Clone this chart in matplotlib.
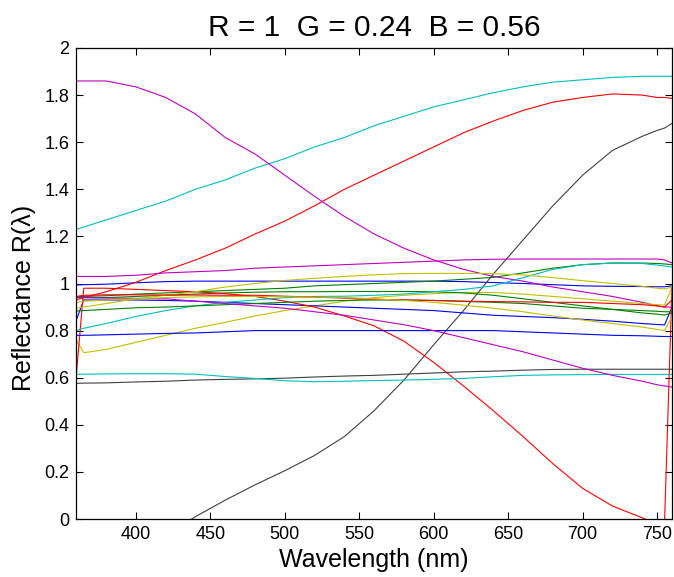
import matplotlib.pyplot as plt
import numpy as np

plt.rcParams['font.family'] = ['Liberation Sans', 'DejaVu Sans']

# wavelength grid (nm)
wl = [360, 365, 380, 400, 420, 440, 460, 480, 500, 520, 540, 560,
      580, 600, 620, 640, 660, 680, 700, 720, 740, 750, 755, 760]

# reflectance curves
blue1 = [0.994, 0.995, 0.997, 1.003, 1.008, 1.01, 1.01, 1.01, 1.01, 1.01, 1.01, 1.01,
         1.01, 1.01, 1.008, 1.004, 1.0, 0.995, 0.99, 0.988, 0.987, 0.986, 0.986, 0.99]
green1 = [0.944, 0.945, 0.948, 0.955, 0.96, 0.965, 0.97, 0.975, 0.98, 0.99, 0.995, 1.0,
          1.005, 1.01, 1.018, 1.026, 1.045, 1.065, 1.08, 1.087, 1.087, 1.085, 1.083, 1.08]
red_a = [0.93, 0.94, 0.965, 1.005, 1.055, 1.10, 1.15, 1.21, 1.265, 1.33, 1.40, 1.46,
         1.52, 1.58, 1.64, 1.69, 1.735, 1.77, 1.79, 1.805, 1.80, 1.79, 1.79, 1.786]
cyan_top = [1.23, 1.24, 1.27, 1.31, 1.35, 1.40, 1.44, 1.49, 1.53, 1.58, 1.62, 1.67,
            1.71, 1.75, 1.78, 1.81, 1.835, 1.855, 1.865, 1.875, 1.88, 1.88, 1.88, 1.88]
magenta_big = [1.86, 1.86, 1.86, 1.835, 1.79, 1.72, 1.62, 1.55, 1.46, 1.37, 1.285, 1.21,
               1.15, 1.10, 1.06, 1.03, 1.01, 0.985, 0.965, 0.945, 0.92, 0.905, 0.90, 0.90]
yellow1 = [0.76, 0.706, 0.72, 0.75, 0.78, 0.81, 0.835, 0.862, 0.885, 0.905, 0.925, 0.94,
           0.95, 0.957, 0.962, 0.962, 0.955, 0.945, 0.935, 0.925, 0.915, 0.91, 0.908, 0.985]
black_big = [-0.3, -0.28, -0.22, -0.14, -0.07, 0.01, 0.08, 0.145, 0.205, 0.27, 0.35, 0.46,
             0.59, 0.74, 0.885, 1.04, 1.185, 1.33, 1.46, 1.565, 1.625, 1.65, 1.66, 1.68]
blue2 = [0.845, 0.93, 0.93, 0.93, 0.928, 0.925, 0.92, 0.915, 0.91, 0.905, 0.90, 0.895,
         0.89, 0.885, 0.875, 0.865, 0.86, 0.855, 0.848, 0.84, 0.83, 0.826, 0.824, 0.90]
green2 = [0.94, 0.94, 0.94, 0.945, 0.95, 0.955, 0.96, 0.963, 0.965, 0.965, 0.966, 0.966,
          0.966, 0.965, 0.96, 0.95, 0.935, 0.92, 0.905, 0.89, 0.875, 0.87, 0.866, 0.875]
red_b = [0.61, 0.98, 0.98, 0.975, 0.97, 0.965, 0.957, 0.945, 0.925, 0.90, 0.862, 0.82,
         0.755, 0.665, 0.565, 0.46, 0.35, 0.235, 0.13, 0.055, 0.005, -0.02, -0.01, 0.985]
cyan2 = [0.80, 0.81, 0.83, 0.86, 0.885, 0.905, 0.92, 0.93, 0.94, 0.945, 0.946, 0.95,
         0.955, 0.965, 0.975, 0.99, 1.025, 1.06, 1.08, 1.087, 1.085, 1.078, 1.074, 1.07]
magenta_flat = [1.03, 1.03, 1.03, 1.035, 1.045, 1.05, 1.055, 1.065, 1.07, 1.075, 1.08, 1.085,
                1.09, 1.095, 1.10, 1.103, 1.104, 1.104, 1.104, 1.104, 1.104, 1.104, 1.10, 1.087]
yellow2 = [0.895, 0.90, 0.915, 0.935, 0.95, 0.965, 0.985, 1.0, 1.013, 1.022, 1.03, 1.037,
           1.042, 1.043, 1.043, 1.042, 1.036, 1.025, 1.012, 1.0, 0.988, 0.98, 0.977, 0.985]
black_flat = [0.576, 0.577, 0.578, 0.582, 0.585, 0.59, 0.593, 0.595, 0.598, 0.603, 0.607, 0.61,
              0.615, 0.62, 0.625, 0.628, 0.632, 0.635, 0.636, 0.636, 0.636, 0.636, 0.636, 0.636]
blue3 = [0.78, 0.78, 0.782, 0.785, 0.788, 0.79, 0.795, 0.80, 0.80, 0.80, 0.80, 0.80,
         0.80, 0.80, 0.80, 0.80, 0.795, 0.79, 0.785, 0.78, 0.778, 0.776, 0.775, 0.775]
green3 = [0.883, 0.885, 0.89, 0.897, 0.90, 0.905, 0.91, 0.915, 0.92, 0.925, 0.928, 0.93,
          0.93, 0.928, 0.924, 0.92, 0.915, 0.905, 0.895, 0.89, 0.885, 0.882, 0.88, 0.88]
red_c = [0.945, 0.95, 0.952, 0.952, 0.951, 0.951, 0.95, 0.95, 0.946, 0.942, 0.938, 0.933,
         0.93, 0.928, 0.925, 0.923, 0.922, 0.92, 0.92, 0.915, 0.91, 0.905, 0.90, 0.93]
cyan3 = [0.614, 0.615, 0.616, 0.617, 0.617, 0.615, 0.605, 0.597, 0.587, 0.583, 0.585, 0.588,
         0.59, 0.593, 0.597, 0.604, 0.61, 0.612, 0.613, 0.614, 0.614, 0.614, 0.614, 0.614]
magenta_low = [0.94, 0.94, 0.938, 0.937, 0.935, 0.925, 0.915, 0.905, 0.895, 0.88, 0.865, 0.845,
               0.825, 0.80, 0.77, 0.74, 0.71, 0.675, 0.64, 0.61, 0.585, 0.57, 0.565, 0.56]
yellow3 = [0.92, 0.925, 0.93, 0.935, 0.94, 0.943, 0.945, 0.945, 0.944, 0.942, 0.94, 0.935,
           0.928, 0.92, 0.908, 0.895, 0.88, 0.862, 0.845, 0.83, 0.815, 0.805, 0.80, 0.86]

curves = [blue1, green1, red_a, cyan_top, magenta_big, yellow1, black_big,
          blue2, green2, red_b, cyan2, magenta_flat, yellow2, black_flat,
          blue3, green3, red_c, cyan3, magenta_low, yellow3]

# old MATLAB colour order
colors = [(0, 0, 1), (0, 0.5, 0), (1, 0, 0), (0, 0.75, 0.75),
          (0.75, 0, 0.75), (0.75, 0.75, 0), (0.25, 0.25, 0.25)]

fig = plt.figure(figsize=(6.74, 5.77), dpi=100)
ax = fig.add_axes([76.3 / 674, 1 - 519 / 577, 595.7 / 674, 471 / 577])

for i, c in enumerate(curves):
    ax.plot(wl, c, color=colors[i % 7], lw=0.8)

ax.set_xlim(360, 760)
ax.set_ylim(0, 2)
ax.set_xticks(np.arange(400, 751, 50))
yt = np.arange(0, 2.01, 0.2)
ax.set_yticks(yt)
ax.set_yticklabels(['%g' % round(v, 1) for v in yt])
ax.tick_params(direction='in', top=True, right=True, length=5, width=0.8,
               labelsize=13, pad=5)
for s in ax.spines.values():
    s.set_linewidth(0.9)

ax.set_title('R = 1  G = 0.24  B = 0.56', fontsize=21.5, pad=9)
ax.set_xlabel('Wavelength (nm)', fontsize=18, labelpad=4)
ax.set_ylabel('Reflectance R(\u03bb)', fontsize=18)
ax.yaxis.set_label_coords(-0.068, 0.47)

fig.savefig('out.png', dpi=100)
